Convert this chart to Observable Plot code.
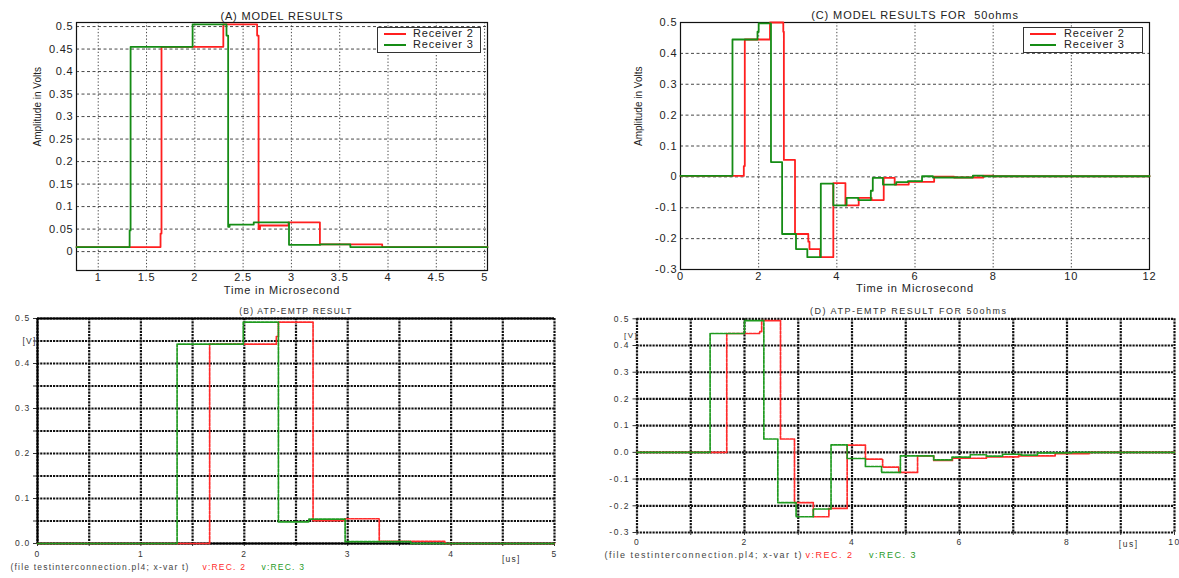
<!DOCTYPE html>
<html><head><meta charset="utf-8">
<script src="https://cdn.jsdelivr.net/npm/d3@7"></script>
<script src="https://cdn.jsdelivr.net/npm/@observablehq/plot@0.6"></script>
<style>
body{margin:0;background:#fff;}
#wrap{position:relative;width:1179px;height:578px;overflow:hidden;background:#fff;}
.lg{position:absolute;border:1.2px solid #333;background:#fff;box-sizing:border-box;font-family:"Liberation Sans",Arial,sans-serif;font-size:11px;letter-spacing:0.8px;color:#222;}
.lg .sw{position:absolute;height:0;border-top:2px solid;}
.lg .tx{position:absolute;line-height:11px;white-space:nowrap;}
</style></head><body><div id="wrap"></div>
<script>
// ---------- Panel A : MODEL RESULTS ----------
const aTitle = "(A) MODEL RESULTS";
const aXTicks = [1, 1.5, 2, 2.5, 3, 3.5, 4, 4.5, 5];
const aXLabels = ["1", "1.5", "2", "2.5", "3", "3.5", "4", "4.5", "5"];
const aYTicks = [0, 0.05, 0.1, 0.15, 0.2, 0.25, 0.3, 0.35, 0.4, 0.45, 0.5];
const aYLabels = ["0", "0.05", "0.1", "0.15", "0.2", "0.25", "0.3", "0.35", "0.4", "0.45", "0.5"];
const aR2T = [0.775, 1.645, 1.655, 2.295, 2.645, 2.66, 2.675, 2.97, 3.295, 3.94, 5.03];
const aR2V = [0.010, 0.040, 0.455, 0.505, 0.480, 0.050, 0.058, 0.065, 0.016, 0.010, 0.010];
const aR3T = [0.775, 1.325, 1.335, 1.977, 2.328, 2.345, 2.36, 2.61, 2.975, 3.3, 3.61, 5.03];
const aR3V = [0.010, 0.047, 0.455, 0.505, 0.480, 0.055, 0.060, 0.065, 0.015, 0.016, 0.010, 0.010];

// ---------- Panel B : ATP-EMTP RESULT ----------
const bTitle = "(B) ATP-EMTP RESULT";
const bXTicks = [0, 0.5, 1, 1.5, 2, 2.5, 3, 3.5, 4, 4.5, 5];
const bXLabels = ["0", "", "1", "", "2", "", "3", "", "4", "", "5"];
const bYTicks = [0, 0.05, 0.1, 0.15, 0.2, 0.25, 0.3, 0.35, 0.4, 0.45, 0.5];
const bYLabels = ["0.0", "", "0.1", "", "0.2", "", "0.3", "", "0.4", "", "0.5"];
const bR2T = [0, 1.665, 2.31, 2.33, 2.665, 2.97, 3.305, 3.94, 5];
const bR2V = [0, 0.443, 0.46, 0.492, 0.051, 0.055, 0.005, 0, 0];
const bR3T = [0, 1.35, 1.99, 2.33, 2.625, 2.975, 3.61, 5];
const bR3V = [0, 0.443, 0.492, 0.048, 0.054, 0.004, 0, 0];

// ---------- Panel C : MODEL RESULTS FOR 50ohms ----------
const cTitle = "(C) MODEL RESULTS FOR  50ohms";
const cXTicks = [0, 2, 4, 6, 8, 10, 12];
const cXLabels = ["0", "2", "4", "6", "8", "10", "12"];
const cYTicks = [-0.3, -0.2, -0.1, 0, 0.1, 0.2, 0.3, 0.4, 0.5];
const cYLabels = ["-0.3", "-0.2", "-0.1", "0", "0.1", "0.2", "0.3", "0.4", "0.5"];
const cR2T = [0, 1.62, 1.645, 2.29, 2.63, 2.645, 2.93, 3.27, 3.3, 3.57, 3.91, 4.22, 4.56, 4.89, 5.2, 5.48, 5.84, 6.49, 7.0, 7.75, 8.0, 12];
const cR2V = [0.003, 0.035, 0.445, 0.5, 0.47, 0.055, -0.185, -0.21, -0.234, -0.26, -0.02, -0.092, -0.068, -0.075, -0.003, -0.025, -0.016, 0.001, -0.002, 0.004, 0.002, 0.003];
const cR3T = [0, 1.33, 1.97, 2.0, 2.315, 2.6, 2.955, 3.245, 3.59, 3.91, 4.25, 4.55, 4.87, 4.92, 5.18, 5.52, 5.82, 6.18, 6.46, 7.48, 7.74, 12];
const cR3V = [0.003, 0.445, 0.47, 0.497, 0.048, -0.185, -0.234, -0.26, -0.022, -0.092, -0.068, -0.075, -0.045, -0.003, -0.025, -0.017, -0.014, 0.002, -0.002, 0.004, 0.002, 0.003];

// ---------- Panel D : ATP-EMTP RESULT FOR 50ohms ----------
const dTitle = "(D) ATP-EMTP RESULT FOR 50ohms";
const dXTicks = [0, 1, 2, 3, 4, 5, 6, 7, 8, 9, 10];
const dXLabels = ["0", "", "2", "", "4", "", "6", "", "8", "", "10"];
const dYTicks = [-0.3, -0.2, -0.1, 0, 0.1, 0.2, 0.3, 0.4, 0.5];
const dYLabels = ["-0.3", "-0.2", "-0.1", "0.0", "0.1", "0.2", "0.3", "0.4", "0.5"];
const dR2T = [0, 1.67, 2.28, 2.32, 2.67, 2.93, 3.28, 3.57, 3.91, 4.25, 4.57, 4.87, 5.22, 5.52, 5.87, 6.5, 7.1, 7.78, 8.42, 10];
const dR2V = [0, 0.445, 0.452, 0.493, 0.05, -0.188, -0.241, -0.21, 0.027, -0.025, -0.055, -0.075, -0.013, -0.03, -0.022, -0.017, -0.013, -0.005, 0, 0];
const dR3T = [0, 1.36, 2.0, 2.36, 2.62, 2.96, 3.28, 3.61, 3.91, 4.25, 4.55, 4.9, 5.52, 5.86, 6.2, 6.5, 6.8, 7.15, 7.45, 8.1, 10];
const dR3V = [0, 0.445, 0.493, 0.05, -0.188, -0.241, -0.212, 0.028, -0.023, -0.053, -0.075, -0.013, -0.028, -0.018, -0.009, -0.014, -0.007, -0.01, -0.002, 0, 0];

const legendNames = ["Receiver 2", "Receiver 3"];
const atpFile = "(file testinterconnection.pl4; x-var t)";
const atpNames = ["v:REC. 2", "v:REC. 3"];

const RED = "#ff1f1f", GREEN = "#158c15";
const ARED = "#ff2b2b", AGREEN = "#1f9a1f";

const rows = (T, V) => T.map((t, i) => ({t, v: V[i]}));
const lab = (ticks, labels) => d => labels[ticks.indexOf(d)] ?? "";

const wrap = document.getElementById("wrap");
function place(svg, left, top, ls) {
  svg.style.position = "absolute";
  svg.style.left = left + "px";
  svg.style.top = top + "px";
  svg.style.maxWidth = "none";
  svg.style.background = "transparent";
  svg.style.overflow = "visible";
  svg.style.letterSpacing = ls;
  wrap.appendChild(svg);
}

// ===== A =====
const A = Plot.plot({
  width: 500, height: 300,
  marginLeft: 76, marginRight: 13, marginTop: 22, marginBottom: 30,
  style: {fontFamily: "Liberation Sans, Arial, sans-serif", fontSize: "11px", color: "#222"},
  x: {domain: [0.775, 5.03], ticks: aXTicks, tickFormat: lab(aXTicks, aXLabels), tickSize: 0, tickPadding: 3, label: null},
  y: {domain: [-0.042, 0.509], ticks: aYTicks, tickFormat: lab(aYTicks, aYLabels), tickSize: 0, tickPadding: 3, label: null},
  marks: [
    Plot.ruleX(aXTicks, {stroke: "#333", strokeWidth: 0.9, strokeDasharray: "1.3,2"}),
    Plot.ruleY(aYTicks, {stroke: "#333", strokeWidth: 0.9, strokeDasharray: "3,2.5"}),
    Plot.frame({stroke: "#111", strokeWidth: 1.2}),
    Plot.line(rows(aR2T, aR2V), {x: "t", y: "v", curve: "step-after", stroke: RED, strokeWidth: 1.8}),
    Plot.line(rows(aR3T, aR3V), {x: "t", y: "v", curve: "step-after", stroke: GREEN, strokeWidth: 1.8}),
    Plot.text([aTitle], {frameAnchor: "top", dy: -10, fontSize: 11}),
    Plot.text(["Time in Microsecond"], {frameAnchor: "bottom", dy: 23, fontSize: 11}),
    Plot.text(["Amplitude in Volts"], {frameAnchor: "left", dx: -39, rotate: -90, fontSize: 10})
  ]
});
place(A, 0, 0, "0.8px");

// ===== C =====
const C = Plot.plot({
  width: 579, height: 300,
  marginLeft: 80, marginRight: 30, marginTop: 22, marginBottom: 31,
  style: {fontFamily: "Liberation Sans, Arial, sans-serif", fontSize: "11px", color: "#222"},
  x: {domain: [0, 12], ticks: cXTicks, tickFormat: lab(cXTicks, cXLabels), tickSize: 0, tickPadding: 3, label: null},
  y: {domain: [-0.3, 0.5], ticks: cYTicks, tickFormat: lab(cYTicks, cYLabels), tickSize: 0, tickPadding: 3, label: null},
  marks: [
    Plot.ruleX(cXTicks, {stroke: "#333", strokeWidth: 0.9, strokeDasharray: "1.3,2"}),
    Plot.ruleY(cYTicks, {stroke: "#333", strokeWidth: 0.9, strokeDasharray: "3,2.5"}),
    Plot.frame({stroke: "#111", strokeWidth: 1.2}),
    Plot.line(rows(cR2T, cR2V), {x: "t", y: "v", curve: "step-after", stroke: RED, strokeWidth: 1.8}),
    Plot.line(rows(cR3T, cR3V), {x: "t", y: "v", curve: "step-after", stroke: GREEN, strokeWidth: 1.8}),
    Plot.text([cTitle], {frameAnchor: "top", dy: -11, fontSize: 11}),
    Plot.text(["Time in Microsecond"], {frameAnchor: "bottom", dy: 22, fontSize: 11}),
    Plot.text(["Amplitude in Volts"], {frameAnchor: "left", dx: -42, rotate: -90, fontSize: 10})
  ]
});
place(C, 600, 0, "0.9px");

// ===== B =====
const gridB = {stroke: "#111", strokeWidth: 2.2, strokeDasharray: "2.2,1"};
const B = Plot.plot({
  width: 590, height: 283,
  marginLeft: 37, marginRight: 36, marginTop: 23, marginBottom: 35,
  style: {fontFamily: "Liberation Sans, Arial, sans-serif", fontSize: "8.5px", color: "#333"},
  x: {domain: [0, 5], ticks: bXTicks, tickFormat: lab(bXTicks, bXLabels), tickSize: 3, tickPadding: 4, label: null},
  y: {domain: [0, 0.5], ticks: bYTicks, tickFormat: lab(bYTicks, bYLabels), tickSize: 4, tickPadding: 3, label: null},
  marks: [
    Plot.ruleX(bXTicks, gridB),
    Plot.ruleY(bYTicks, gridB),
    Plot.ruleX([bXTicks[0]], {stroke: "#000", strokeWidth: 2}),
    Plot.ruleY([bYTicks[0], bYTicks[bYTicks.length - 1]], {stroke: "#000", strokeWidth: 2}),
    Plot.line(rows(bR2T, bR2V), {x: "t", y: "v", curve: "step-after", stroke: ARED, strokeWidth: 1.7, strokeDasharray: "3,1.2"}),
    Plot.line(rows(bR3T, bR3V), {x: "t", y: "v", curve: "step-after", stroke: AGREEN, strokeWidth: 1.7, strokeDasharray: "3,1.2"}),
    Plot.text([bTitle], {frameAnchor: "top", dy: -11, fontSize: 8.5}),
    Plot.text(["[V]"], {frameAnchor: "top-left", dx: -15, dy: 19}),
    Plot.text(["[us]"], {frameAnchor: "bottom-right", dx: -34, dy: 18}),
    Plot.text([atpFile], {frameAnchor: "bottom-left", dx: -27, dy: 26, textAnchor: "start", fill: "#444", fontSize: 8.5}),
    Plot.text([atpNames[0]], {frameAnchor: "bottom-left", dx: 165, dy: 26, textAnchor: "start", fill: ARED, fontSize: 8.5}),
    Plot.text([atpNames[1]], {frameAnchor: "bottom-left", dx: 224, dy: 26, textAnchor: "start", fill: AGREEN, fontSize: 8.5})
  ]
});
place(B, 0, 295, "1.2px");

// ===== D =====
const D = Plot.plot({
  width: 589, height: 283,
  marginLeft: 46.5, marginRight: 5, marginTop: 23.3, marginBottom: 46,
  style: {fontFamily: "Liberation Sans, Arial, sans-serif", fontSize: "8.5px", color: "#333"},
  x: {domain: [0, 10], ticks: dXTicks, tickFormat: lab(dXTicks, dXLabels), tickSize: 3, tickPadding: 3, label: null},
  y: {domain: [-0.3, 0.5], ticks: dYTicks, tickFormat: lab(dYTicks, dYLabels), tickSize: 4, tickPadding: 3, label: null},
  marks: [
    Plot.ruleX(dXTicks, gridB),
    Plot.ruleY(dYTicks, gridB),
    Plot.line(rows(dR2T, dR2V), {x: "t", y: "v", curve: "step-after", stroke: ARED, strokeWidth: 1.7, strokeDasharray: "3,1.2"}),
    Plot.line(rows(dR3T, dR3V), {x: "t", y: "v", curve: "step-after", stroke: AGREEN, strokeWidth: 1.7, strokeDasharray: "3,1.2"}),
    Plot.text([dTitle], {frameAnchor: "top", dx: 3, dy: -11, fontSize: 9}),
    Plot.text(["[V]"], {frameAnchor: "top-left", dx: -13, dy: 14, fontSize: 8}),
    Plot.text(["[us]"], {frameAnchor: "bottom-right", dx: -36, dy: 14}),
    Plot.text([atpFile], {frameAnchor: "bottom-left", dx: -32.5, dy: 25, textAnchor: "start", fill: "#444", fontSize: 9}),
    Plot.text([atpNames[0]], {frameAnchor: "bottom-left", dx: 168.5, dy: 25, textAnchor: "start", fill: ARED, fontSize: 9}),
    Plot.text([atpNames[1]], {frameAnchor: "bottom-left", dx: 232, dy: 25, textAnchor: "start", fill: AGREEN, fontSize: 9})
  ]
});
place(D, 590, 295, "1.5px");

// y-labels without extra tracking
[A, C].forEach(svg => d3.select(svg).selectAll("text")
  .filter(function () { return this.textContent === "Amplitude in Volts"; })
  .style("letter-spacing", "0px"));

// legends
function legend(left, top, w, lineLen, textOff) {
  const box = document.createElement("div");
  box.className = "lg";
  Object.assign(box.style, {left: left + "px", top: top + "px", width: w + "px", height: "26px"});
  [RED, GREEN].forEach((c, i) => {
    const sw = document.createElement("div");
    sw.className = "sw";
    Object.assign(sw.style, {left: "6px", top: (5 + i * 11) + "px", width: lineLen + "px", borderTopColor: c});
    const tx = document.createElement("div");
    tx.className = "tx";
    tx.textContent = legendNames[i];
    Object.assign(tx.style, {left: textOff + "px", top: (i * 11) + "px"});
    box.appendChild(sw); box.appendChild(tx);
  });
  wrap.appendChild(box);
}
legend(377, 27, 104, 22, 35);
legend(1023, 27, 120, 26, 40);
</script></body></html>
